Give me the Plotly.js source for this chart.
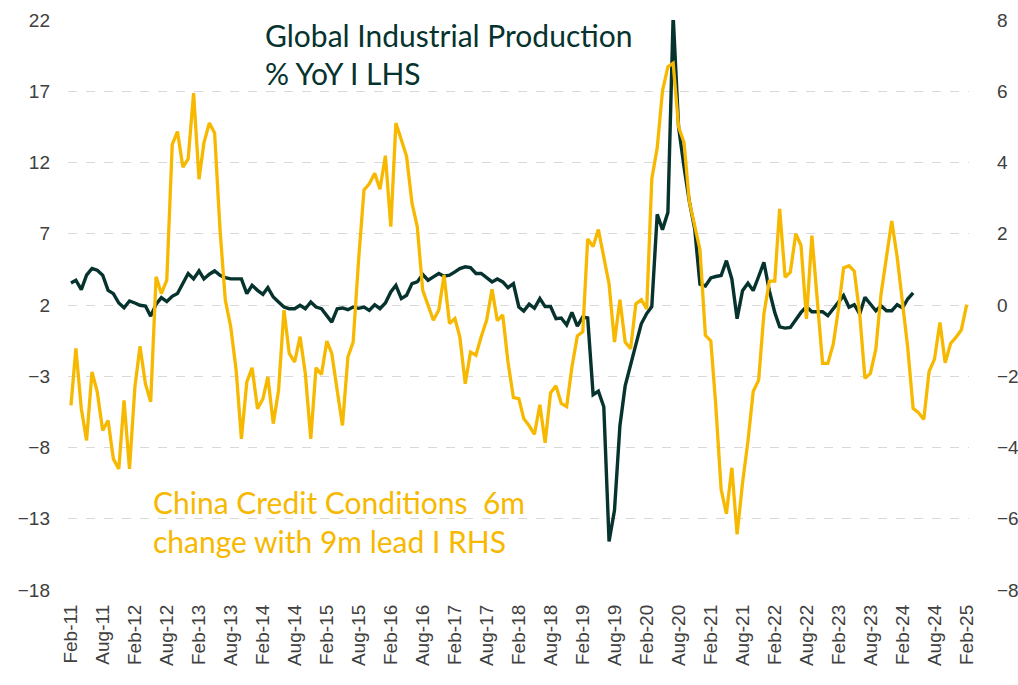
<!DOCTYPE html>
<html>
<head>
<meta charset="utf-8">
<script src="https://cdn.plot.ly/plotly-3.0.1.min.js"></script>
<style>
html,body{margin:0;padding:0;background:#fff;}
#chart{width:1018px;height:685px;}
</style>
</head>
<body>
<div id="chart"></div>
<script>
// Monthly series, starting Feb-2011
const startYear = 2011, startMonth = 2;

// Global Industrial Production % YoY (LHS), Feb-11 .. Apr-24
const globalIP = [
  3.55, 3.74, 3.08, 4.09, 4.56, 4.44, 4.09, 3.03, 2.80, 2.14,
  1.81, 2.28, 2.14, 1.98, 1.93, 1.22, 2.05, 2.52, 2.24, 2.61,
  2.80, 3.46, 4.21, 3.83, 4.39, 3.83, 4.16, 4.39, 4.09, 3.92,
  3.83, 3.83, 3.83, 2.80, 3.38, 3.03, 2.75, 3.22, 2.56, 2.21,
  1.86, 1.74, 1.74, 1.98, 1.74, 2.21, 1.86, 1.74, 1.27, 0.80,
  1.74, 1.79, 1.67, 1.86, 1.77, 1.86, 1.62, 2.02, 1.74, 2.14,
  2.92, 3.38, 2.45, 2.68, 3.50, 3.62, 4.14, 3.74, 3.97, 4.21,
  4.02, 4.09, 4.32, 4.56, 4.68, 4.63, 4.21, 4.21, 3.92, 3.62,
  3.83, 3.62, 3.22, 3.50, 1.86, 1.57, 2.06, 1.77, 2.45, 1.89,
  1.89, 1.04, 1.09, 0.60, 1.48, 0.51, 1.16, 1.09, -4.29, -4.05,
  -5.14, -14.59, -12.41, -6.47, -3.68, -2.11, -0.78, 0.68, 1.40, 1.89,
  8.36, 7.29, 8.50, 22.3, 14.49, 11.70, 9.28, 7.34, 3.46, 3.34,
  3.90, 4.00, 4.07, 5.11, 3.83, 1.04, 3.00, 3.53, 3.01, 4.00,
  5.00, 3.01, 1.48, 0.47, 0.38, 0.43, 0.94, 1.48, 1.88, 1.53,
  1.53, 1.53, 1.25, 1.72, 2.19, 2.66, 1.84, 2.02, 1.37, 2.54,
  2.07, 1.60, 1.95, 1.60, 1.60, 2.02, 1.79, 2.42, 2.85
];

// China Credit Conditions 6m change with 9m lead (RHS), Feb-11 .. Feb-25
const chinaCredit = [
  -2.82, -1.22, -2.91, -3.80, -1.88, -2.44, -3.52, -3.24, -4.32, -4.60,
  -2.68, -4.60, -2.30, -1.16, -2.21, -2.72, 0.79, 0.32, 0.70, 4.50,
  4.87, 3.87, 4.10, 5.95, 3.53, 4.55, 5.11, 4.83, 2.11, 0.14,
  -0.61, -1.83, -3.76, -2.16, -1.76, -2.91, -2.63, -2.02, -3.33, -2.40,
  -0.14, -1.36, -1.60, -0.89, -1.93, -3.76, -1.76, -1.95, -1.01, -1.36,
  -2.40, -3.38, -1.46, -1.04, 1.26, 3.23, 3.40, 3.70, 3.25, 4.19,
  2.20, 5.11, 4.64, 4.17, 2.86, 2.20, 0.42, -0.05, -0.43, -0.14,
  0.84, -0.52, -0.38, -0.89, -2.21, -1.32, -1.41, -0.89, -0.43, 0.44,
  -0.44, -0.28, -1.60, -2.60, -2.63, -3.19, -3.39, -3.63, -2.80, -3.87,
  -2.47, -2.27, -2.76, -2.85, -1.74, -0.87, -0.75, 1.85, 1.64, 2.12,
  1.36, 0.59, -1.04, 0.15, -1.04, -1.23, 0.03, 0.15, -0.11, 3.54,
  4.41, 6.01, 6.69, 6.79, 5.00, 4.56, 2.91, 2.23, 1.56, -0.85,
  -1.01, -2.80, -5.18, -5.86, -4.57, -6.44, -5.00, -3.82, -2.43, -2.11,
  -0.25, 0.67, 0.67, 2.70, 0.78, 0.92, 2.00, 1.67, -0.39, 1.95,
  0.12, -1.64, -1.64, -1.10, -0.07, 1.04, 1.10, 0.95, -0.25, -2.06,
  -1.92, -1.24, 0.31, 1.34, 2.36, 1.34, 0.03, -1.19, -2.90, -3.02,
  -3.21, -1.87, -1.52, -0.49, -1.62, -1.08, -0.91, -0.70, 0.01
];

const tickLabels = [
  "Feb-11","Aug-11","Feb-12","Aug-12","Feb-13","Aug-13","Feb-14","Aug-14",
  "Feb-15","Aug-15","Feb-16","Aug-16","Feb-17","Aug-17","Feb-18","Aug-18",
  "Feb-19","Aug-19","Feb-20","Aug-20","Feb-21","Aug-21","Feb-22","Aug-22",
  "Feb-23","Aug-23","Feb-24","Aug-24","Feb-25"
];

function monthDate(i) {
  const m0 = (startMonth - 1) + i;
  const y = startYear + Math.floor(m0 / 12);
  const m = (m0 % 12) + 1;
  return y + "-" + String(m).padStart(2, "0") + "-01";
}
const datesIP = globalIP.map((_, i) => monthDate(i));
const datesCC = chinaCredit.map((_, i) => monthDate(i));
const tickVals = tickLabels.map((_, i) => monthDate(i * 6));

const GREEN = "#06332e";
const YELLOW = "#f7b800";

const traces = [
  {
    x: datesCC, y: chinaCredit, yaxis: "y2", type: "scatter", mode: "lines",
    line: {color: YELLOW, width: 3.3}, name: "China Credit Conditions", hoverinfo: "x+y"
  },
  {
    x: datesIP, y: globalIP, yaxis: "y", type: "scatter", mode: "lines",
    line: {color: GREEN, width: 3.4}, name: "Global Industrial Production", hoverinfo: "x+y"
  }
];

const tickFont = {family: "Liberation Sans, Arial, sans-serif", size: 19, color: "#404040"};
const annFont = (c) => ({family: "Lato, sans-serif", size: 30, color: c});

const layout = {
  width: 1018, height: 685,
  margin: {l: 68, r: 49, t: 20, b: 95, pad: 0},
  paper_bgcolor: "#ffffff", plot_bgcolor: "#ffffff",
  showlegend: false,
  xaxis: {
    type: "date",
    range: ["2011-01-15", "2025-02-14"],
    tickmode: "array", tickvals: tickVals, ticktext: tickLabels,
    tickangle: -90, tickfont: tickFont,
    showgrid: false, zeroline: false, showline: false, ticks: "",
    ticklabelstandoff: 10
  },
  yaxis: {
    range: [-18, 22], tick0: -18, dtick: 5, tickmode: "linear",
    tickfont: tickFont,
    showgrid: true, gridcolor: "#d9d9d9", griddash: "dash", gridwidth: 1,
    zeroline: false, showline: false, ticks: "",
    ticklabelstandoff: 17
  },
  yaxis2: {
    overlaying: "y", side: "right",
    range: [-8, 8], tick0: -8, dtick: 2, tickmode: "linear",
    tickfont: tickFont,
    showgrid: false, zeroline: false, showline: false, ticks: "",
    ticklabelstandoff: 27
  },
  annotations: [
    {xref: "paper", yref: "paper", x: (263-68)/901, y: (590-55)/570, xanchor: "left", yanchor: "bottom",
     text: "Global Industrial Production", showarrow: false, font: annFont(GREEN)},
    {xref: "paper", yref: "paper", x: (263-68)/901, y: (590-93)/570, xanchor: "left", yanchor: "bottom",
     text: "% YoY I LHS", showarrow: false, font: annFont(GREEN)},
    {xref: "paper", yref: "paper", x: (151-68)/901, y: (590-522)/570, xanchor: "left", yanchor: "bottom",
     text: "China Credit Conditions  6m", showarrow: false, font: annFont(YELLOW)},
    {xref: "paper", yref: "paper", x: (151-68)/901, y: (590-561)/570, xanchor: "left", yanchor: "bottom",
     text: "change with 9m lead I RHS", showarrow: false, font: annFont(YELLOW)}
  ]
};

Plotly.newPlot("chart", traces, layout, {displayModeBar: false, staticPlot: true});
</script>
</body>
</html>
